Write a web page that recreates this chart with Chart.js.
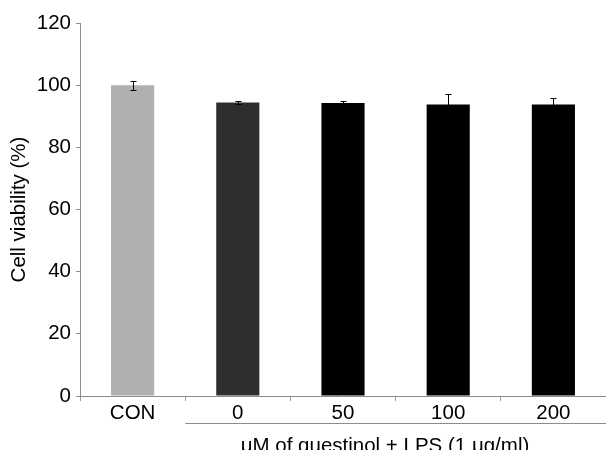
<!DOCTYPE html>
<html>
<head>
<meta charset="utf-8">
<script src="https://cdn.jsdelivr.net/npm/chart.js@4/dist/chart.umd.min.js"></script>
<style>
  body { margin: 0; background: #fff; }
  canvas { display: block; }
</style>
</head>
<body>
<canvas id="viabilityChart" width="606" height="450"></canvas>
<script>
// Data
const groups = ['CON', '0', '50', '100', '200'];
const viability = [100, 94.4, 94.3, 93.8, 93.8];
const viabilityErr = [1.4, 0.4, 0.6, 3.5, 2.1];
const barColors = ['#b0b0b0', '#2e2e2e', '#000000', '#000000', '#000000'];
const yTicks = [0, 20, 40, 60, 80, 100, 120];

const FONT = 'Liberation Sans, Arial, sans-serif';
const FONT_SIZE = 20.5;

// Draws the +/- error bars on top of each bar
const errorBars = {
    id: 'errorBars',
    afterDatasetsDraw(chart) {
        const meta = chart.getDatasetMeta(0);
        const y = chart.scales.y;
        const ctx = chart.ctx;
        ctx.save();
        ctx.strokeStyle = '#000000';
        ctx.lineWidth = 1;
        meta.data.forEach((bar, i) => {
            const x = Math.round(bar.x) + 0.5;
            const top = Math.round(y.getPixelForValue(viability[i] + viabilityErr[i])) + 0.5;
            const bot = Math.round(y.getPixelForValue(viability[i] - viabilityErr[i])) + 0.5;
            ctx.beginPath();
            ctx.moveTo(x, top);
            ctx.lineTo(x, bot);
            ctx.moveTo(x - 3, top);
            ctx.lineTo(x + 3, top);
            ctx.moveTo(x - 3, bot);
            ctx.lineTo(x + 3, bot);
            ctx.stroke();
        });
        ctx.restore();
    }
};

// Bracket line under the treated groups and its caption
const groupCaption = {
    id: 'groupCaption',
    afterDraw(chart) {
        const x = chart.scales.x;
        const ctx = chart.ctx;
        const left = x.getPixelForValue(1) - (x.getPixelForValue(1) - x.getPixelForValue(0)) / 2;
        const right = chart.chartArea.right;
        ctx.save();
        ctx.strokeStyle = '#8c8c8c';
        ctx.lineWidth = 1;
        ctx.beginPath();
        ctx.moveTo(left, 423.5);
        ctx.lineTo(right, 423.5);
        ctx.stroke();
        ctx.fillStyle = '#000';
        ctx.font = FONT_SIZE + 'px ' + FONT;
        ctx.textAlign = 'center';
        ctx.textBaseline = 'alphabetic';
        ctx.fillText('\u03bcM of questinol + LPS (1 \u03bcg/ml)', 385, 452);
        ctx.restore();
    }
};

new Chart(document.getElementById('viabilityChart'), {
    type: 'bar',
    data: {
        labels: groups,
        datasets: [{
            data: viability,
            backgroundColor: barColors,
            borderWidth: 0,
            barPercentage: 0.41,
            categoryPercentage: 1
        }]
    },
    options: {
        responsive: false,
        animation: false,
        layout: { padding: { top: 23, right: 0, bottom: 0, left: 0 } },
        plugins: {
            legend: { display: false },
            tooltip: { enabled: false }
        },
        scales: {
            x: {
                grid: {
                    display: true,
                    offset: true,
                    drawOnChartArea: false,
                    drawTicks: true,
                    tickLength: 5,
                    color: '#9a9a9a'
                },
                border: { color: '#8c8c8c' },
                ticks: {
                    color: '#000',
                    padding: 0,
                    font: { family: FONT, size: FONT_SIZE }
                },
                afterFit(scale) { scale.height = 54; }
            },
            y: {
                min: 0,
                max: 120,
                afterBuildTicks(scale) {
                    scale.ticks = yTicks.map(v => ({ value: v }));
                },
                grid: {
                    display: true,
                    drawOnChartArea: false,
                    drawTicks: true,
                    tickLength: 4,
                    color: '#8c8c8c'
                },
                border: { color: '#8c8c8c' },
                ticks: {
                    color: '#000',
                    padding: 5,
                    font: { family: FONT, size: FONT_SIZE }
                },
                title: {
                    display: true,
                    text: 'Cell viability (%)',
                    color: '#000',
                    font: { family: FONT, size: FONT_SIZE },
                    padding: { top: 7, bottom: 0 }
                },
                afterFit(scale) { scale.width = 80; }
            }
        }
    },
    plugins: [errorBars, groupCaption]
});
</script>
</body>
</html>
